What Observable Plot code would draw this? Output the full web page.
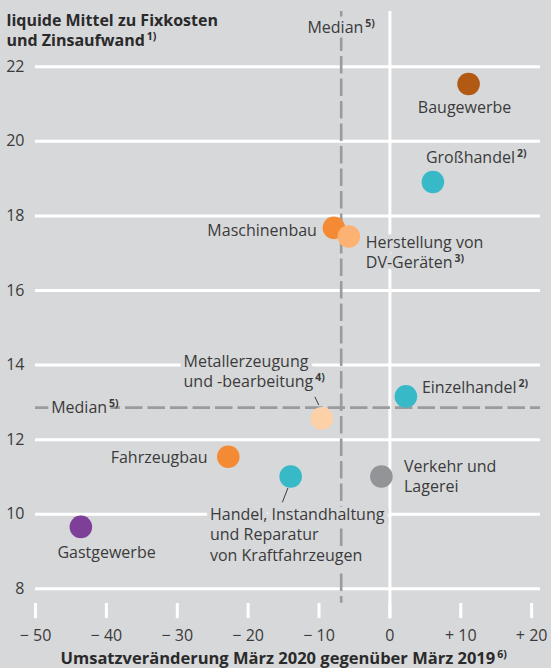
<!DOCTYPE html>
<html>
<head>
<meta charset="utf-8">
<script src="https://cdn.jsdelivr.net/npm/d3@7"></script>
<script src="https://cdn.jsdelivr.net/npm/@observablehq/plot@0.6"></script>
<style>
  html, body { margin: 0; padding: 0; background: #d7d8da; }
  #chart { width: 551px; height: 668px; }
</style>
</head>
<body>
<div id="chart"></div>
<script>
// ---- data ----
const branchen = ["Baugewerbe", "Großhandel", "Maschinenbau", "Herstellung von DV-Geräten", "Einzelhandel",
  "Metallerzeugung und -bearbeitung", "Fahrzeugbau", "Handel, Instandhaltung und Reparatur von Kraftfahrzeugen",
  "Verkehr und Lagerei", "Gastgewerbe"];
const umsatzveraenderung = [11.1, 6.07, -7.9, -5.8, 2.26, -9.6, -22.8, -14.0, -1.2, -43.6];
const liquideMittel = [21.54, 18.91, 17.68, 17.45, 13.16, 12.57, 11.54, 11.01, 11.01, 9.66];
const farben = ["#b25a14", "#38b9c7", "#f58a34", "#fbb272", "#38b9c7", "#fdd1a7", "#f58a34", "#38b9c7", "#939497", "#7d3f98"];
const labelTexte = ["Baugewerbe", "Großhandel^2)", "Maschinenbau", "Herstellung von\nDV-Geräten^3)", "Einzelhandel^2)",
  "Metallerzeugung\nund -bearbeitung^4)", "Fahrzeugbau", "Handel, Instandhaltung\nund Reparatur\nvon Kraftfahrzeugen",
  "Verkehr und\nLagerei", "Gastgewerbe"];
const xTicks = [-50, -40, -30, -20, -10, 0, 10, 20];
const xTickLabels = ["− 50", "− 40", "− 30", "− 20", "− 10", "0", "+ 10", "+ 20"];
const yTicks = [8, 10, 12, 14, 16, 18, 20, 22];
const medianUmsatz = -6.87;
const medianLiquide = 12.86;
const yTitel = "liquide Mittel zu Fixkosten\nund Zinsaufwand^1)";
const xTitel = "Umsatzveränderung März 2020 gegenüber März 2019^6)";
const medianLabel = "Median^5)";

// ---- layout (offsets in px relative to each point) ----
const labelLayout = [
  {anchor: "middle", dx: -4, dy: 15},
  {anchor: "start", dx: -7, dy: -33.6},
  {anchor: "end", dx: -17, dy: -6.6},
  {anchor: "start", dx: 17, dy: -3},
  {anchor: "start", dx: 16, dy: -18},
  {anchor: "start", dx: -138.3, dy: -66.2},
  {anchor: "end", dx: -20.6, dy: -7.9},
  {anchor: "start", dx: -80.7, dy: 28.7},
  {anchor: "start", dx: 22.6, dy: -19.6},
  {anchor: "middle", dx: 25.7, dy: 16.6}
];
// leader lines: offsets in data units from the point
const leaders = [
  {i: 5, ax: -0.99, ay: 0.579, bx: -0.42, by: 0.357},
  {i: 7, ax: -0.38, ay: -0.303, bx: -1.17, by: -0.689}
];

const BG = "#d7d8da";
const TXT = "#3b3b3b";
const FONT = "'Open Sans', 'Noto Sans', sans-serif";

const pts = branchen.map((b, i) => ({b, x: umsatzveraenderung[i], y: liquideMittel[i], c: farben[i], t: labelTexte[i]}));
const xDom = [-50, 21.25];

const marks = [
  // gridlines
  Plot.ruleY(yTicks, {y: d => d, x1: xDom[0], x2: xDom[1], stroke: "white", strokeWidth: 3}),
  // zero line
  Plot.ruleX([0], {x: d => d, y1: 23.48, y2: 7.2, stroke: "white", strokeWidth: 3}),
  // x tick marks
  Plot.ruleX(xTicks, {x: d => d, y1: 7.606, y2: 7.2, stroke: "white", strokeWidth: 3}),
  // median lines
  Plot.ruleX([medianUmsatz], {x: d => d, y1: 23.48, y2: 7.614, stroke: "#9a9b9d", strokeWidth: 2.6, strokeDasharray: "17.5,5"}),
  Plot.ruleY([medianLiquide], {y: d => d, x1: xDom[0], x2: xDom[1], stroke: "#9a9b9d", strokeWidth: 2.6, strokeDasharray: "17.5,5"}),
  // leader lines
  Plot.link(leaders, {x1: d => pts[d.i].x + d.ax, y1: d => pts[d.i].y + d.ay, x2: d => pts[d.i].x + d.bx, y2: d => pts[d.i].y + d.by, stroke: "#3b3b3b", strokeWidth: 1}),
  // points
  Plot.dot(pts, {x: "x", y: "y", r: 11.3, fill: "c", stroke: null}),
  // point labels
  ...pts.map((p, i) => Plot.text([p], {x: "x", y: "y", text: "t", textAnchor: labelLayout[i].anchor, lineAnchor: "top",
    dx: labelLayout[i].dx, dy: labelLayout[i].dy, lineHeight: 1.28, fontSize: 16, fill: TXT,
    stroke: BG, strokeWidth: 9, strokeLinejoin: "round"})),
  // median labels
  Plot.text([medianLabel], {x: medianUmsatz, y: 22, dy: -45.6, lineAnchor: "top", textAnchor: "middle",
    fontSize: 16, fill: TXT, stroke: BG, strokeWidth: 9}),
  Plot.text([medianLabel], {x: xDom[0], y: medianLiquide, dx: 15.7, lineAnchor: "middle", textAnchor: "start",
    fontSize: 16, fill: TXT, stroke: BG, strokeWidth: 9}),
  // y tick labels
  Plot.text(yTicks, {x: xDom[0], y: d => d, dx: -11, text: d => String(d), textAnchor: "end", lineAnchor: "middle", fontSize: 16, fill: TXT}),
  // x tick labels
  Plot.text(xTicks, {x: d => d, y: 8, dy: 46.7, text: (d, i) => xTickLabels[i], textAnchor: "middle", lineAnchor: "middle", fontSize: 16, fill: TXT}),
  // titles
  Plot.text([yTitel], {frameAnchor: "top-left", dx: -29, dy: -55.6, lineAnchor: "top", textAnchor: "start", lineHeight: 1.29,
    fontSize: 16, fontWeight: 700, fill: "#2a2a2a"}),
  Plot.text([xTitel], {frameAnchor: "bottom-left", dx: 25, dy: 69.7, lineAnchor: "middle", textAnchor: "start",
    fontSize: 16.5, fontWeight: 700, fill: "#2a2a2a"})
];

const chart = Plot.plot({
  width: 551,
  height: 668,
  marginLeft: 35,
  marginRight: 11,
  marginTop: 66.3,
  marginBottom: 79.7,
  x: {domain: xDom, axis: null},
  y: {domain: [8, 22], axis: null},
  style: {background: BG, fontFamily: FONT, overflow: "visible"},
  marks
});

// superscripts: "^x)" -> tspan
const walker = document.createTreeWalker(chart, NodeFilter.SHOW_TEXT);
const nodes = [];
while (walker.nextNode()) nodes.push(walker.currentNode);
for (const n of nodes) {
  const m = n.nodeValue.match(/^(.*)\^(.+)$/);
  if (!m) continue;
  n.nodeValue = m[1];
  const t = document.createElementNS("http://www.w3.org/2000/svg", "tspan");
  t.setAttribute("font-size", "10.5");
  t.setAttribute("font-weight", "700");
  t.setAttribute("baseline-shift", "6");
  t.setAttribute("dx", "2");
  t.setAttribute("stroke", "none");
  t.textContent = m[2];
  n.parentNode.insertBefore(t, n.nextSibling);
}

document.getElementById("chart").appendChild(chart);
</script>
</body>
</html>
